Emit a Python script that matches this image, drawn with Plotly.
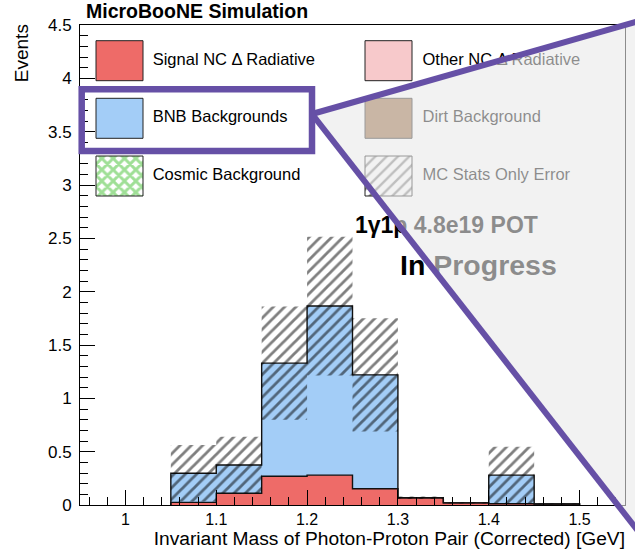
import plotly.graph_objects as go

W, H = 635, 552

# ---------------- data ----------------
bin_edges = [1.05, 1.10, 1.15, 1.20, 1.25, 1.30, 1.35, 1.40, 1.45, 1.50]
signal_nc_delta = [0.025, 0.11, 0.27, 0.28, 0.153, 0.068, 0.02, 0.012, 0.01]
bnb_backgrounds = [0.272, 0.265, 1.06, 1.585, 1.067, 0.0, 0.0, 0.268, 0.0]
mc_stat_error = [0.265, 0.265, 0.53, 0.65, 0.53, 0.012, 0.006, 0.266, 0.004]

x_tick_vals = [1.0, 1.1, 1.2, 1.3, 1.4, 1.5]
x_tick_text = ["1", "1.1", "1.2", "1.3", "1.4", "1.5"]
y_tick_vals = [0, 0.5, 1, 1.5, 2, 2.5, 3, 3.5, 4, 4.5]
y_tick_text = ["0", "0.5", "1", "1.5", "2", "2.5", "3", "3.5", "4", "4.5"]

legend_labels = ["Signal NC \u0394 Radiative", "Other NC \u0394 Radiative",
                 "BNB Backgrounds", "Dirt Background",
                 "Cosmic Background", "MC Stats Only Error"]

title_text = "MicroBooNE Simulation"
x_title = "Invariant Mass of Photon-Proton Pair (Corrected) [GeV]"
y_title = "Events"
pot_text = "1\u03b31p 4.8e19 POT"
progress_text = "In Progress"

# ---------------- styles ----------------
FONT = "Liberation Sans, Arial, Helvetica, sans-serif"
RED = "#EE6B68"
PINK = "#F7C9CB"
BLUE = "#A3CDF7"
DIRT = "#99693F"
GREEN = "#3FBF2E"
PURPLE = "#6650A6"

total = [s + b for s, b in zip(signal_nc_delta, bnb_backgrounds)]


def step(vals):
    xs, ys = [bin_edges[0]], [0.0]
    for i, v in enumerate(vals):
        xs += [bin_edges[i], bin_edges[i + 1]]
        ys += [v, v]
    xs.append(bin_edges[-1])
    ys.append(0.0)
    return xs, ys


fig = go.Figure()

# stacked fills
tx, ty = step(total)
sx, sy = step(signal_nc_delta)
fig.add_trace(go.Scatter(x=tx, y=ty, mode="lines", line=dict(width=0),
                         fill="tozeroy", fillcolor=BLUE, hoverinfo="skip"))
fig.add_trace(go.Scatter(x=sx, y=sy, mode="lines", line=dict(width=0),
                         fill="tozeroy", fillcolor=RED, hoverinfo="skip"))

# outlines
fig.add_trace(go.Scatter(x=tx, y=ty, mode="lines", line=dict(color="#111", width=1.4),
                         hoverinfo="skip"))
fig.add_trace(go.Scatter(x=sx, y=sy, mode="lines", line=dict(color="#111", width=1.4),
                         hoverinfo="skip"))

# MC stat error hatch bands
hx, hy = [], []
for i, (t, e) in enumerate(zip(total, mc_stat_error)):
    lo, hi = bin_edges[i], bin_edges[i + 1]
    hx += [lo, hi, hi, lo, lo, None]
    hy += [t - e, t - e, t + e, t + e, t - e, None]
fig.add_trace(go.Scatter(x=hx, y=hy, mode="lines", line=dict(width=0),
                         fill="toself", fillcolor="rgba(0,0,0,0)",
                         fillpattern=dict(shape="/", fgcolor="#000", bgcolor="rgba(0,0,0,0)",
                                          size=8, solidity=0.35, fillmode="overlay"),
                         hoverinfo="skip", xaxis="x", yaxis="y"))

# ---------------- pixel overlay axis: legend + labels ----------------
PX = dict(xaxis="x2", yaxis="y2", hoverinfo="skip", showlegend=False)

box_cols = [(96, 143), (365, 412)]
box_rows = [(40.7, 80.7), (98.3, 138.3), (156, 196)]
text_x = [152.7, 422.5]

shapes = []
solid = {0: RED, 1: PINK, 2: BLUE, 3: DIRT}
for idx in range(6):
    r, c = idx // 2, idx % 2
    x0, x1 = box_cols[c]
    y0, y1 = box_rows[r]
    if idx in solid:
        shapes.append(dict(type="rect", xref="x2", yref="y2", x0=x0, x1=x1, y0=y0, y1=y1,
                           fillcolor=solid[idx], line=dict(color="#222", width=1), layer="above"))
    elif idx == 4:
        fig.add_trace(go.Scatter(x=[x0, x1, x1, x0, x0], y=[y0, y0, y1, y1, y0], mode="lines",
                                 line=dict(color="#222", width=1), fill="toself", fillcolor="white",
                                 fillpattern=dict(shape="x", fgcolor=GREEN, bgcolor="white",
                                                  size=8, solidity=0.6), **PX))
    else:
        fig.add_trace(go.Scatter(x=[x0, x1, x1, x0, x0], y=[y0, y0, y1, y1, y0], mode="lines",
                                 line=dict(color="#222", width=1), fill="toself", fillcolor="white",
                                 fillpattern=dict(shape="/", fgcolor="#000", bgcolor="white",
                                                  size=8, solidity=0.3), **PX))
    yc = (y0 + y1) / 2
    fig.add_trace(go.Scatter(x=[text_x[c]], y=[yc], mode="text", text=[legend_labels[idx]],
                             textposition="middle right",
                             textfont=dict(family=FONT, size=16.5, color="black"), **PX))

fig.add_trace(go.Scatter(x=[86], y=[13], mode="text", text=["<b>" + title_text + "</b>"],
                         textposition="middle right",
                         textfont=dict(family=FONT, size=19.5, color="black"), **PX))
fig.add_trace(go.Scatter(x=[355], y=[227], mode="text", text=["<b>" + pot_text + "</b>"],
                         textposition="middle right",
                         textfont=dict(family=FONT, size=23, color="black"), **PX))
fig.add_trace(go.Scatter(x=[400], y=[268], mode="text", text=["<b>" + progress_text + "</b>"],
                         textposition="middle right",
                         textfont=dict(family=FONT, size=28.5, color="black"), **PX))
fig.add_trace(go.Scatter(x=[625], y=[540], mode="text", text=[x_title],
                         textposition="middle left",
                         textfont=dict(family=FONT, size=19.2, color="black"), **PX))

# overlay wedge + purple callout
shapes.append(dict(type="path", xref="x2", yref="y2",
                   path="M 312 114 L 640 20.8 L 640 533.5 Z",
                   fillcolor="rgba(233,233,233,0.6)", line=dict(width=0), layer="above"))
shapes.append(dict(type="line", xref="x2", yref="y2", x0=312, y0=114, x1=640, y1=20.8,
                   line=dict(color=PURPLE, width=6), layer="above"))
shapes.append(dict(type="line", xref="x2", yref="y2", x0=312, y0=114, x1=640, y1=533.5,
                   line=dict(color=PURPLE, width=6), layer="above"))
shapes.append(dict(type="rect", xref="x2", yref="y2", x0=81.7, x1=312, y0=89.3, y1=151,
                   line=dict(color=PURPLE, width=6.5), fillcolor="rgba(0,0,0,0)", layer="above"))

axis_common = dict(showline=True, linecolor="black", linewidth=1, mirror=True,
                   ticks="inside", tickcolor="black", tickwidth=1, ticklen=15,
                   showgrid=False, zeroline=False, automargin=False)

fig.update_layout(
    width=W, height=H,
    margin=dict(l=0, r=0, t=0, b=0),
    paper_bgcolor="white", plot_bgcolor="rgba(0,0,0,0)",
    showlegend=False,
    xaxis=dict(domain=[80 / W, 625 / W], range=[0.95, 1.55], anchor="y",
               tickmode="array", tickvals=x_tick_vals, ticktext=x_tick_text,
               minor=dict(tickmode="linear", tick0=1.0, dtick=0.02, ticks="inside",
                          ticklen=8, tickcolor="black", tickwidth=1),
               ticklabelstandoff=0,
               tickfont=dict(family=FONT, size=16, color="black"), **axis_common),
    yaxis=dict(domain=[(H - 505) / H, (H - 25) / H], range=[0, 4.5], anchor="x",
               tickmode="array", tickvals=y_tick_vals, ticktext=y_tick_text,
               minor=dict(tickmode="linear", tick0=0, dtick=0.1, ticks="inside",
                          ticklen=8, tickcolor="black", tickwidth=1),
               ticklabelstandoff=4,
               tickfont=dict(family=FONT, size=17, color="black"), **axis_common),
    xaxis2=dict(domain=[0, 1], range=[0, W], anchor="y2", visible=False, fixedrange=True),
    yaxis2=dict(domain=[0, 1], range=[H, 0], anchor="x2", visible=False, fixedrange=True),
    shapes=shapes,
    annotations=[dict(x=21.7 / W, y=1 - 53.5 / H, xref="paper", yref="paper",
                      text=y_title, textangle=-90, showarrow=False,
                      xanchor="center", yanchor="middle",
                      font=dict(family=FONT, size=19, color="black"))],
)

fig.write_html("out.html")
